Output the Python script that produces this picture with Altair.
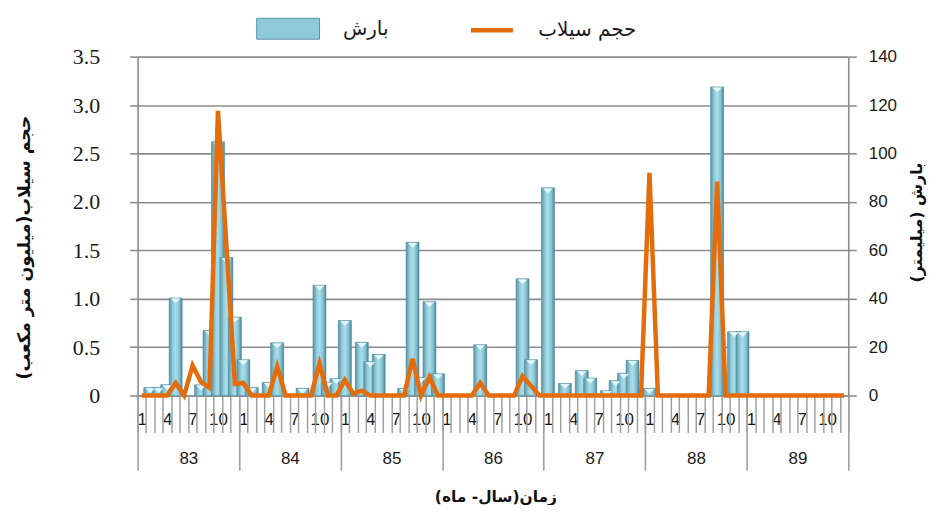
import altair as alt
import pandas as pd

# ---------------- data ----------------
years = [83, 84, 85, 86, 87, 88, 89]
month_ticks = [1, 4, 7, 10]

# precipitation (mm), 12 months per year
precip_83 = [0, 3.3, 3.3, 4.5, 40.3, 0, 0, 4.4, 26.9, 104.8, 57.0, 32.4]
precip_84 = [14.8, 3.3, 0, 5.4, 21.8, 0, 0, 3.0, 0, 45.6, 5.5, 7.0]
precip_85 = [31.0, 0, 22.0, 14.0, 17.0, 0, 0, 3.0, 63.3, 7.5, 38.8, 9.0]
precip_86 = [0, 0, 0, 0, 21.0, 0, 0, 0, 0, 48.2, 14.8, 0]
precip_87 = [85.8, 0, 5.0, 0, 10.3, 7.2, 0, 2.0, 6.2, 9.2, 14.5, 0]
precip_88 = [3.0, 0, 0, 0, 0, 0, 0, 0, 127.5, 0, 26.4, 26.4]
precip_89 = [0, 0, 0, 0, 0, 0, 0, 0, 0, 0, 0, 0]

# flood volume (million m3)
flood_83 = [0, 0, 0, 0, 0.13, 0, 0.31, 0.14, 0.08, 2.94, 1.55, 0.12]
flood_84 = [0.13, 0, 0, 0, 0.30, 0, 0, 0, 0, 0.33, 0, 0]
flood_85 = [0.16, 0.02, 0.05, 0, 0, 0, 0, 0, 0.38, 0, 0.19, 0]
flood_86 = [0, 0, 0, 0, 0.13, 0, 0, 0, 0, 0.20, 0.10, 0]
flood_87 = [0, 0, 0, 0, 0, 0, 0, 0, 0, 0, 0, 0]
flood_88 = [2.30, 0, 0, 0, 0, 0, 0, 0, 2.21, 0, 0, 0]
flood_89 = [0, 0, 0, 0, 0, 0, 0, 0, 0, 0, 0, 0]

bar_name = "بارش"
line_name = "حجم سیلاب"
left_title = "حجم سیلاب(میلیون متر مکعب)"
right_title = "بارش (میلیمتر)"
x_title = "زمان(سال- ماه)"

precip_all = precip_83 + precip_84 + precip_85 + precip_86 + precip_87 + precip_88 + precip_89
flood_all = flood_83 + flood_84 + flood_85 + flood_86 + flood_87 + flood_88 + flood_89

n = len(precip_all)
rows = []
for k in range(n):
    rows.append({
        "pos": k + 0.5,
        "year": years[k // 12],
        "month": k % 12 + 1,
        "precip": precip_all[k],
        "flood": flood_all[k],
        "bs": bar_name,
        "ls": line_name,
    })
df = pd.DataFrame(rows)
df_bars = df[df["precip"] > 0]

# axis positions derived from the category structure
month_label_pos = [y * 12 + (m - 1) + 0.5 for y in range(len(years)) for m in month_ticks]
month_div_pos = list(range(0, n + 1))
year_div_pos = list(range(0, n + 1, 12))
year_label_pos = [y * 12 + 6 for y in range(len(years))]

GRID = "#8c8c8c"
DIV = "#a0a0a0"
ORANGE = "#e46c0a"
AR_FONT = "DejaVu Sans"
NUM_FONT = "Liberation Sans"

x_scale = alt.Scale(domain=[0, n], nice=False, zero=False, padding=0)

def xenc(axis):
    return alt.X("pos:Q", scale=x_scale, axis=axis)

# ---- bars (precipitation), right axis ----
bar_axis_x = alt.Axis(orient="bottom", values=month_label_pos, ticks=False, domain=True,
                      domainColor=GRID, domainWidth=1.6, grid=False,
                      labelExpr="'' + (floor(datum.value) % 12 + 1)",
                      labelFont=NUM_FONT, labelFontSize=17, labelColor="#1a1a1a",
                      labelBaseline="middle", labelPadding=24, labelOverlap=False,
                      labelFlush=False, title=None)
y_bar = alt.Y("precip:Q", scale=alt.Scale(domain=[0, 140], nice=False),
              axis=alt.Axis(orient="right", values=list(range(0, 141, 20)), grid=False,
                            domainColor=GRID, domainWidth=1.6, tickColor=GRID, tickWidth=1.6,
                            tickSize=8, labelFont=NUM_FONT, labelFontSize=17,
                            labelColor="#1a1a1a", labelPadding=12, labelOverlap=False,
                            labelFlush=False, title=right_title, titleFont=AR_FONT,
                            titleFontSize=16, titleFontWeight="bold", titleColor="#111",
                            titleAngle=270, titleX=68, titleY=166, titleAlign="center",
                            titleBaseline="middle"))

bar_path = "M-1,-0.333L1,-0.333L1,0.333L-1,0.333Z"
bars_solid = alt.Chart(df_bars).mark_bar(size=13).encode(
    x=xenc(bar_axis_x),
    y=y_bar,
    fill=alt.Fill("bs:N", scale=alt.Scale(domain=[bar_name], range=["#8fcadb"]),
                  legend=alt.Legend(orient="none", legendX=119, legendY=-60, padding=0,
                                    title=None, symbolType=bar_path, symbolSize=3969,
                                    symbolStrokeColor="#5a95a6", symbolStrokeWidth=1,
                                    symbolOpacity=1, labelFont=AR_FONT, labelFontSize=20,
                                    labelColor="#1a1a1a", labelOffset=23)),
)
grad = alt.LinearGradient(
    gradient="linear", x1=0, x2=1, y1=0, y2=0,
    stops=[alt.GradientStop(color="#5894a5", offset=0),
           alt.GradientStop(color="#95cedd", offset=0.3),
           alt.GradientStop(color="#aadeea", offset=0.5),
           alt.GradientStop(color="#85c1d1", offset=0.78),
           alt.GradientStop(color="#4a8596", offset=1)])
bars_grad = alt.Chart(df_bars).mark_bar(size=13, color=grad, stroke="#558fa0",
                                         strokeWidth=0.6).encode(
    x=xenc(bar_axis_x), y=y_bar)
bars = alt.layer(bars_solid, bars_grad)

# ---- highlight triangles on bar tops (year dividers axis) ----
tri_path = "M-1,-0.5L1,-0.5L0,0.5Z"
tris = alt.Chart(df_bars).mark_point(shape=tri_path, size=90, filled=True,
                                     color="#e4f8fc", opacity=1, yOffset=3).encode(
    x=xenc(alt.Axis(orient="bottom", values=year_div_pos, ticks=True, tickSize=75,
                    tickColor=DIV, tickWidth=1.6, labels=False, domain=False, grid=False,
                    title=None)),
    y=alt.Y("precip:Q", scale=alt.Scale(domain=[0, 140], nice=False), axis=None),
)

# ---- line (flood volume), left axis ----
line = alt.Chart(df).mark_line(strokeWidth=4.5, strokeJoin="miter").encode(
    x=xenc(alt.Axis(orient="bottom", values=month_div_pos, ticks=True, tickSize=37,
                    tickColor=DIV, tickWidth=1.5, labels=False, domain=False, grid=False,
                    title=x_title, titleFont=AR_FONT, titleFontSize=15.5,
                    titleFontWeight="bold", titleColor="#111", titleX=359, titleY=101,
                    titleBaseline="middle", titleAlign="center")),
    y=alt.Y("flood:Q", scale=alt.Scale(domain=[0, 3.5], nice=False),
            axis=alt.Axis(orient="left", values=[0, 0.5, 1, 1.5, 2, 2.5, 3, 3.5],
                          grid=True, gridColor=GRID, gridWidth=1.6, gridOpacity=1,
                          domainColor=GRID, domainWidth=1.6, tickColor=GRID,
                          tickWidth=1.6, tickSize=8,
                          labelExpr="datum.value == 0 ? '0' : format(datum.value, '.1f')",
                          labelFont="Liberation Serif", labelFontSize=22,
                          labelColor="#1a1a1a", labelPadding=30, labelOverlap=False,
                          labelFlush=False, title=left_title, titleFont=AR_FONT,
                          titleFontSize=17.5, titleFontWeight="bold", titleColor="#111",
                          titleAngle=270, titleX=-113, titleY=191, titleAlign="center",
                          titleBaseline="middle")),
    stroke=alt.Stroke("ls:N", scale=alt.Scale(domain=[line_name], range=[ORANGE]),
                      legend=alt.Legend(orient="none", legendX=332, legendY=-50, padding=0,
                                        title=None, symbolType="stroke", symbolSize=1764,
                                        symbolStrokeWidth=4.5, labelFont=AR_FONT,
                                        labelFontSize=20, labelColor="#1a1a1a",
                                        labelOffset=23)),
)

# ---- invisible layer carrying the year labels axis ----
yr = alt.Chart(df).mark_point(opacity=0).encode(
    x=xenc(alt.Axis(orient="bottom", values=year_label_pos, ticks=False, domain=False,
                    grid=False, labelExpr="'' + (83 + floor(datum.value / 12))",
                    labelFont=NUM_FONT, labelFontSize=17, labelColor="#1a1a1a",
                    labelBaseline="middle", labelPadding=63, labelOverlap=False,
                    labelFlush=False, title=None)),
)

chart = alt.layer(bars, tris, line, yr).resolve_scale(
    y="independent", x="shared"
).resolve_axis(x="independent", y="independent").properties(
    width=713, height=340,
    autosize=alt.AutoSizeParams(type="none"),
    padding={"left": 130, "top": 48, "right": 85, "bottom": 109},
).configure_view(stroke=None)

chart.save("out.html", embed_options={"renderer": "svg", "actions": False})
